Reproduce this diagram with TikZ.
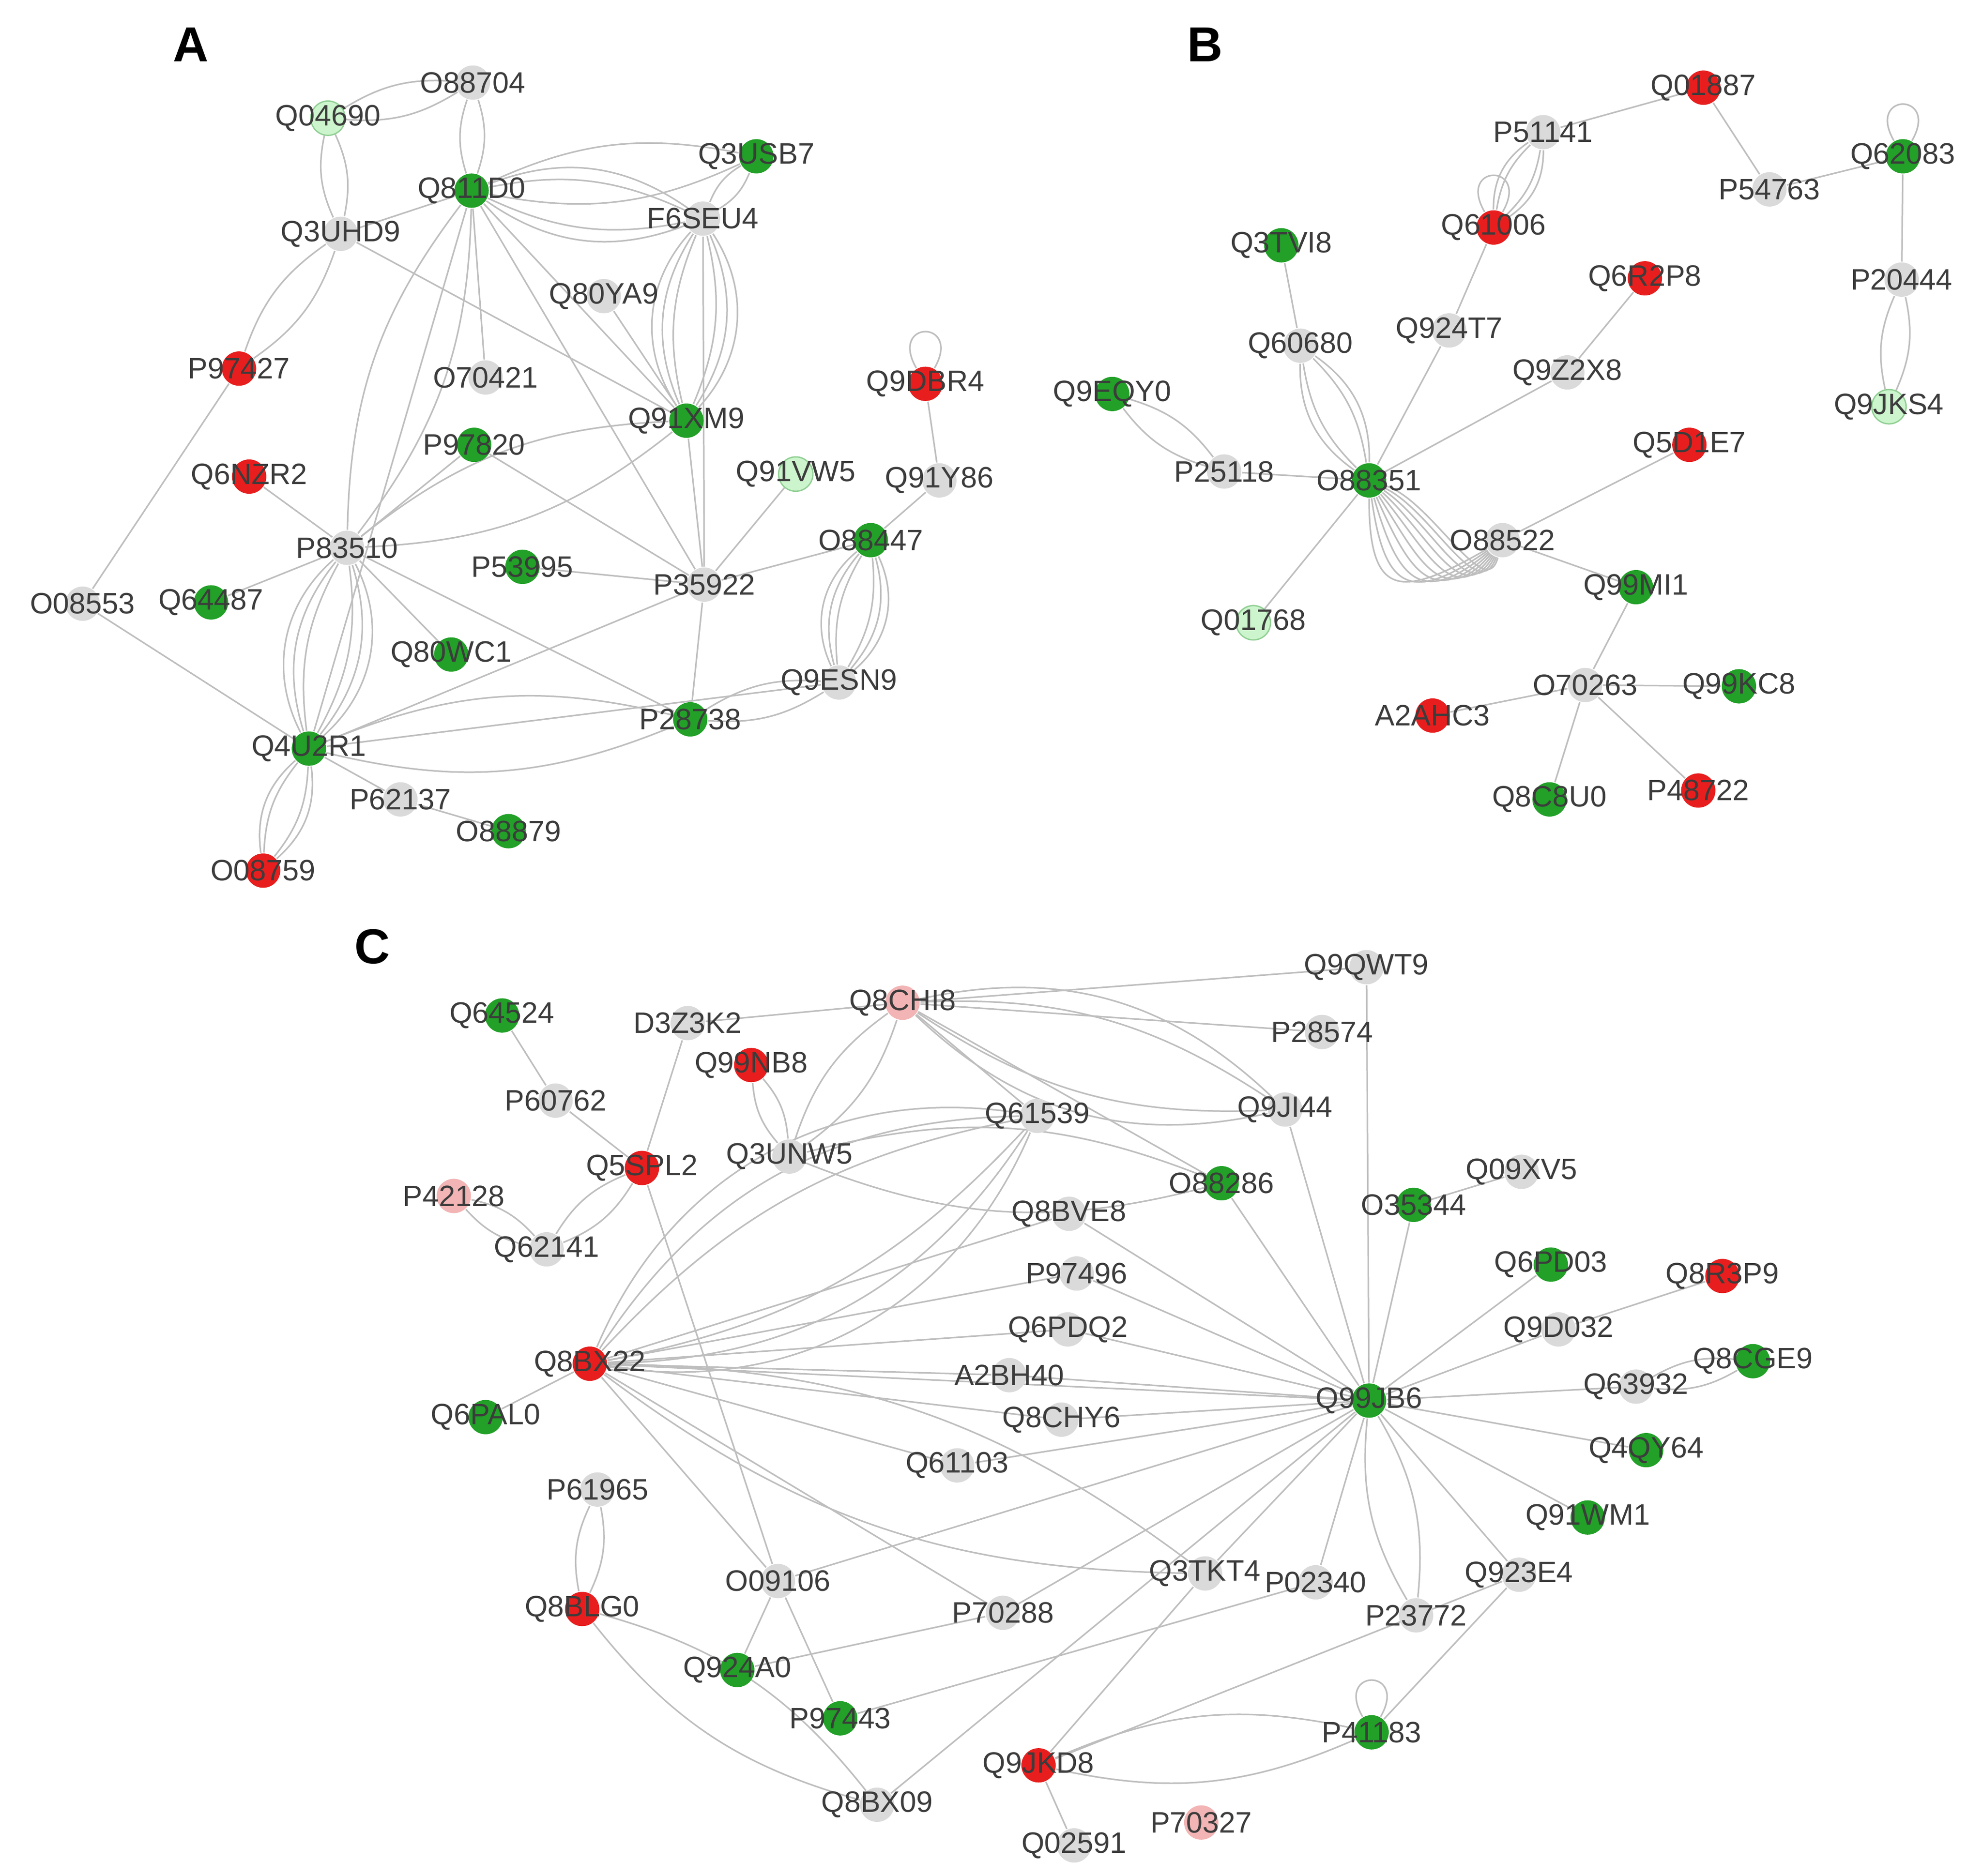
\documentclass[tikz,border=0pt]{standalone}
\usepackage{fontspec}
\setmainfont{Liberation Sans}
\usetikzlibrary{arrows.meta}
\definecolor{netGreen}{RGB}{34,160,40}
\definecolor{netRed}{RGB}{232,30,30}
\definecolor{netGrey}{RGB}{218,218,218}
\definecolor{netLight}{RGB}{205,245,205}
\definecolor{netPink}{RGB}{242,180,180}
\definecolor{netEdge}{RGB}{190,190,190}
\definecolor{netText}{RGB}{60,60,60}
\pgfdeclarelayer{bg}
\pgfsetlayers{bg,main}
\tikzset{
  prot/.style={circle, inner sep=0pt, minimum size=0.27cm},
  gy/.style={prot, fill=netGrey},
  gn/.style={prot, fill=netGreen},
  rd/.style={prot, fill=netRed},
  lg/.style={prot, fill=netLight, draw=netGreen!50, line width=0.3pt},
  pk/.style={prot, fill=netPink},
  lbl/.style={font=\fontsize{6.6}{8}\selectfont, text=netText, inner sep=0pt},
  edge/.style={draw=netEdge, line width=0.35pt},
  panel/.style={font=\bfseries\fontsize{11}{12}\selectfont}
}
\begin{document}
\begin{tikzpicture}[x=0.01cm, y=-0.01cm]
  \useasboundingbox (0,0) rectangle (1560,1476);

  % panel letters
  \node[panel] (lblA) at (150,35) {A};
  \node[panel] (lblB) at (948,35) {B};
  \node[panel] (lblC) at (293,745) {C};

  % panel A proteins
  \foreach \n/\x/\y/\s in {Q04690/258/93/lg, O88704/372/65/gy, Q811D0/371/150/gn,
      Q3USB7/595/123/gn, F6SEU4/553/172/gy, Q3UHD9/268/184/gy, Q80YA9/475/233/gy,
      O70421/382/297/gy, P97427/188/290/rd, Q9DBR4/728/302/rd, Q91XM9/540/331/gn,
      P97820/373/350/gn, Q6NZR2/196/375/rd, Q91VW5/626/373/lg, Q91Y86/739/378/gy,
      P83510/273/431/gy, P53995/411/446/gn, P35922/554/460/gy, O88447/685/425/gn,
      O08553/65/475/gy, Q64487/166/474/gn, Q80WC1/355/515/gn, Q9ESN9/660/537/gy,
      P28738/543/566/gn, Q4U2R1/243/589/gn, P62137/315/629/gy, O88879/400/654/gn,
      O08759/207/685/rd}
    \node[\s, label={[lbl]center:\n}] (\n) at (\x,\y) {};

  % panel B proteins
  \foreach \n/\x/\y/\s in {Q01887/1340/69/rd, P51141/1214/104/gy, Q62083/1497/123/gn,
      P54763/1392/149/gy, Q61006/1175/179/rd, Q3TVI8/1008/193/gn, Q6R2P8/1294/219/rd,
      P20444/1496/220/gy, Q924T7/1140/260/gy, Q60680/1023/272/gy, Q9Z2X8/1233/293/gy,
      Q9EQY0/875/310/gn, Q9JKS4/1486/320/lg, Q5D1E7/1329/350/rd, P25118/963/371/gy,
      O88351/1077/378/gn, O88522/1182/425/gy, Q99MI1/1287/462/gn, Q01768/986/490/lg,
      O70263/1247/539/gy, Q99KC8/1368/540/gn, A2AHC3/1127/563/rd, Q8C8U0/1219/629/gn,
      P48722/1336/622/rd}
    \node[\s, label={[lbl]center:\n}] (\n) at (\x,\y) {};

  % panel C proteins
  \foreach \n/\x/\y/\s in {Q9QWT9/1075/761/gy, Q8CHI8/710/789/pk, D3Z3K2/541/805/gy,
      Q64524/395/799/gn, P28574/1040/812/gy, Q99NB8/591/838/rd, P60762/437/866/gy,
      Q9JI44/1011/873/gy, Q61539/816/878/gy, Q3UNW5/621/910/gy, Q5SPL2/505/919/rd,
      Q09XV5/1197/922/gy, O88286/961/931/gn, O35344/1112/948/gn, P42128/357/941/pk,
      Q8BVE8/841/955/gy, Q62141/430/983/gy, Q6PD03/1220/995/gn, Q8R3P9/1355/1004/rd,
      P97496/847/1002/gy, Q6PDQ2/840/1046/gy, Q9D032/1226/1046/gy, Q8BX22/464/1073/rd,
      Q8CGE9/1379/1071/gn, A2BH40/794/1082/gy, Q63932/1287/1091/gy, Q99JB6/1077/1102/gn,
      Q6PAL0/382/1115/gn, Q8CHY6/835/1117/gy, Q4QY64/1295/1141/gn, Q61103/753/1153/gy,
      P61965/470/1172/gy, Q91WM1/1249/1194/gn, O09106/612/1244/gy, Q3TKT4/948/1238/gy,
      Q923E4/1195/1239/gy, P02340/1035/1245/gy, Q8BLG0/458/1266/rd, P70288/789/1269/gy,
      P23772/1114/1271/gy, Q924A0/580/1314/gn, P97443/661/1352/gn, P41183/1079/1363/gn,
      Q9JKD8/817/1389/rd, Q8BX09/690/1420/gy, P70327/945/1434/pk, Q02591/845/1452/gy}
    \node[\s, label={[lbl]center:\n}] (\n) at (\x,\y) {};

  \begin{pgfonlayer}{bg}
    % single interactions
    \foreach \a/\b in {Q811D0/Q3UHD9, Q811D0/O70421, Q811D0/Q91XM9, Q811D0/P35922,
        Q811D0/Q4U2R1, Q3UHD9/Q91XM9, Q80YA9/Q91XM9, F6SEU4/P35922, P97427/O08553,
        Q91XM9/P35922, P97820/P83510, P97820/P35922, Q6NZR2/P83510, Q91VW5/P35922,
        Q9DBR4/Q91Y86, Q91Y86/O88447, P83510/Q64487, P83510/Q80WC1, P83510/P28738,
        P53995/P35922, P35922/O88447, P35922/P28738, P35922/Q4U2R1, Q9ESN9/Q4U2R1,
        O08553/Q4U2R1, Q4U2R1/P62137, P62137/O88879,
        Q01887/P51141, Q01887/P54763, P54763/Q62083, Q62083/P20444, Q61006/Q924T7,
        Q924T7/O88351, Q3TVI8/Q60680, Q6R2P8/Q9Z2X8, Q9Z2X8/O88351, P25118/O88351,
        O88351/Q01768, Q5D1E7/O88522, O88522/Q99MI1, Q99MI1/O70263, O70263/Q99KC8,
        O70263/A2AHC3, O70263/Q8C8U0, O70263/P48722,
        Q8CHI8/Q9QWT9, Q8CHI8/P28574, Q8CHI8/D3Z3K2, Q8CHI8/Q61539, Q8CHI8/O88286,
        D3Z3K2/Q5SPL2, Q64524/P60762, P60762/Q5SPL2, Q9QWT9/Q99JB6, Q9JI44/Q99JB6,
        O88286/Q99JB6, Q5SPL2/O09106, Q09XV5/O35344, O35344/Q99JB6, Q6PD03/Q99JB6,
        Q8R3P9/Q9D032, Q9D032/Q99JB6, Q8BVE8/Q8BX22, Q8BVE8/Q99JB6, P97496/Q8BX22,
        P97496/Q99JB6, Q6PDQ2/Q8BX22, Q6PDQ2/Q99JB6, A2BH40/Q8BX22, A2BH40/Q99JB6,
        Q8CHY6/Q8BX22, Q8CHY6/Q99JB6, Q63932/Q99JB6, Q4QY64/Q99JB6, Q91WM1/Q99JB6,
        Q8BX22/Q6PAL0, Q8BX22/Q61103, Q8BX22/O09106, Q8BX22/P70288, Q8BX22/Q99JB6,
        Q61103/Q99JB6, O09106/Q99JB6, O09106/Q924A0, O09106/P97443, Q3TKT4/Q99JB6,
        Q3TKT4/Q9JKD8, Q923E4/Q99JB6, Q923E4/P41183, P02340/Q99JB6, P02340/P97443,
        P70288/Q924A0, P70288/Q99JB6, Q8BX09/Q99JB6, Q9JKD8/Q02591, Q9JKD8/Q923E4}
      \draw[edge] (\a) -- (\b);

    % repeated interactions
    \foreach \a/\b/\k in {Q04690/O88704/1, Q04690/Q3UHD9/1, O88704/Q811D0/1,
        Q811D0/P83510/1, Q3UHD9/P97427/1, Q91XM9/P83510/1, Q9ESN9/P28738/1,
        P28738/Q4U2R1/1, Q9EQY0/P25118/1, P20444/Q9JKS4/1, Q8CHI8/Q3UNW5/1,
        Q99NB8/Q3UNW5/1, Q3UNW5/O88286/1, Q5SPL2/Q62141/1, P42128/Q62141/1,
        Q8CGE9/Q63932/1, P61965/Q8BLG0/1, Q8BLG0/Q8BX09/1, P23772/Q99JB6/1,
        Q9JKD8/P41183/1, Q8BX22/Q3TKT4/1, Q811D0/Q3USB7/1, F6SEU4/Q3USB7/1,
        Q811D0/F6SEU4/2, Q8CHI8/Q9JI44/2, Q4U2R1/O08759/2, P51141/Q61006/2,
        Q60680/O88351/2, P83510/Q4U2R1/3, O88447/Q9ESN9/3, Q61539/Q8BX22/3,
        F6SEU4/Q91XM9/3}
      \foreach \i in {1,...,\k} {
        \draw[edge] (\a) to[bend left={8+10*\i}] (\b);
        \draw[edge] (\a) to[bend right={8+10*\i}] (\b);
      };
    \foreach \i in {1,...,10}
      \draw[edge] (O88351) to[out={-10-8*\i}, in={-100-5*\i}, looseness={0.8+0.12*\i}] (O88522);

    % self interactions
    \foreach \n in {Q9DBR4, Q62083, Q61006, P41183}
      \draw[edge] (\n) to[out=120, in=60, looseness=8] (\n);
  \end{pgfonlayer}
\end{tikzpicture}
\end{document}
